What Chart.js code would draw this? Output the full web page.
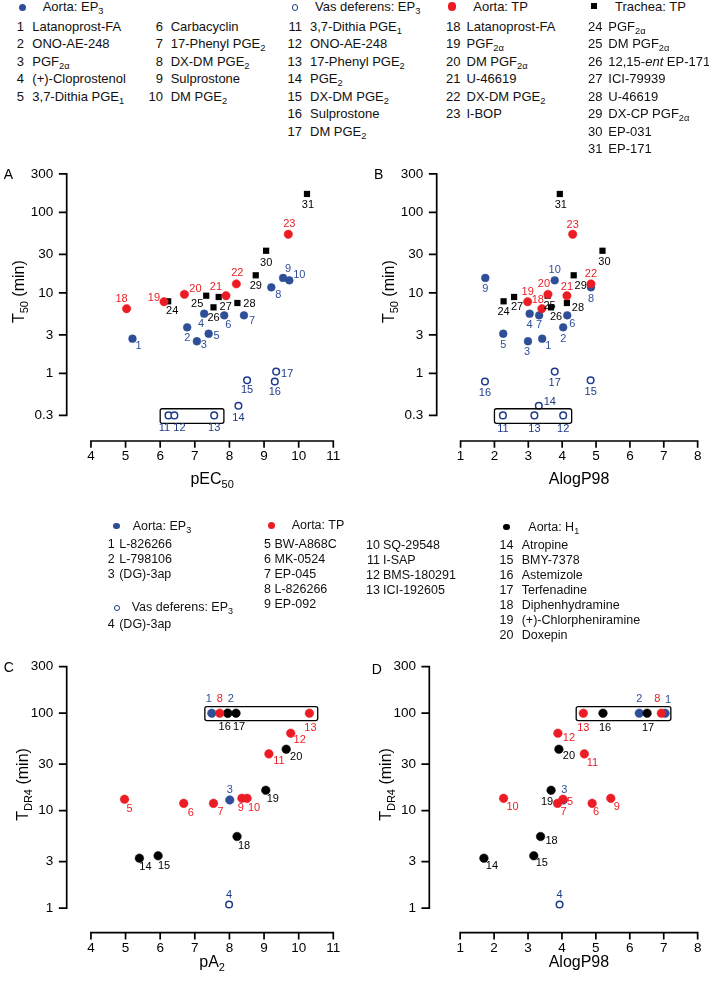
<!DOCTYPE html>
<html>
<head>
<meta charset="utf-8">
<script src="https://cdn.jsdelivr.net/npm/chart.js@4.4.1/dist/chart.umd.min.js"></script>
<style>
  html, body { margin: 0; padding: 0; background: #fff; }
  body { width: 709px; height: 982px; position: relative; overflow: hidden;
         font-family: "Liberation Sans", Arial, Helvetica, sans-serif; color: #111; }
  canvas { position: absolute; }
  .lg { position: absolute; white-space: nowrap; line-height: 1; }
  .lg sub { font-size: 0.72em; vertical-align: -0.32em; line-height: 0; }
  .mk { position: absolute; box-sizing: border-box; }
</style>
</head>
<body>
<canvas id="chartA" width="354" height="350"></canvas>
<canvas id="chartB" width="355" height="350"></canvas>
<canvas id="chartC" width="354" height="342"></canvas>
<canvas id="chartD" width="355" height="342"></canvas>
<script>
// ── Data: panels A/B (T50 vs pEC50 / AlogP98) ─────────────
const ID_EP3  = [1, 2, 3, 4, 5, 6, 7, 8, 9, 10];
const T50_EP3 = [2.69, 3.73, 2.50, 5.5, 3.10, 5.25, 5.25, 11.7, 15.3, 14.3];
const PEC_EP3 = [5.20, 6.78, 7.06, 7.27, 7.40, 7.85, 8.42, 9.21, 9.55, 9.73];
const LOGP_EP3 = [3.41, 4.03, 2.99, 3.04, 2.26, 4.15, 3.32, 4.85, 1.73, 3.78];

const ID_VAS  = [11, 12, 13, 14, 15, 16, 17];
const T50_VAS = [0.3, 0.3, 0.3, 0.396, 0.82, 0.79, 1.05];
const PEC_VAS = [6.24, 6.41, 7.56, 8.26, 8.51, 9.31, 9.35];
const LOGP_VAS = [2.25, 4.03, 3.18, 3.31, 4.84, 1.72, 3.78];

const ID_ATP  = [18, 19, 20, 21, 22, 23];
const T50_ATP = [6.35, 7.75, 9.57, 9.2, 12.9, 53.3];
const PEC_ATP = [5.03, 6.11, 6.70, 7.90, 8.20, 9.70];
const LOGP_ATP = [3.40, 2.98, 3.58, 4.14, 4.85, 4.31];

const ID_TTP  = [24, 25, 26, 27, 28, 29, 30, 31];
const T50_TTP = [7.84, 9.2, 6.6, 8.87, 7.47, 16.5, 33.3, 169];
const PEC_TTP = [6.23, 7.33, 7.54, 7.69, 8.23, 8.76, 9.06, 10.24];
const LOGP_TTP = [2.27, 3.57, 3.67, 2.58, 4.14, 4.34, 5.19, 3.93];

// ── Data: panels C/D (TDR4 vs pA2 / AlogP98) ──────────────
const ID_AEP3  = [1, 2, 3];
const TDR_AEP3 = [100, 100, 12.9];
const PA2_AEP3 = [7.49, 7.95, 8.01];
const LOGP_AEP3 = [7.04, 6.28, 4.04];

const ID_VEP3  = [4];
const TDR_VEP3 = [1.09];
const PA2_VEP3 = [7.99];
const LOGP_VEP3 = [3.93];

const ID_ATX  = [5, 6, 7, 8, 9, 10, 11, 12, 13];
const TDR_ATX = [13.1, 11.9, 11.9, 100, 13.4, 13.4, 38.3, 62.4, 100];
const PA2_ATX = [4.97, 6.68, 7.54, 7.72, 8.36, 8.51, 9.14, 9.77, 10.31];
const LOGP_ATX = [4.03, 4.89, 3.87, 6.93, 5.44, 2.28, 4.66, 3.88, 4.63];

const ID_H1  = [14, 15, 16, 17, 18, 19, 20];
const TDR_H1 = [3.26, 3.45, 100, 100, 5.44, 16.2, 42.7];
const PA2_H1 = [5.40, 5.94, 7.95, 8.19, 8.22, 9.05, 9.64];
const LOGP_H1 = [1.70, 3.17, 5.21, 6.51, 3.37, 3.68, 3.91];

// ── Ticks ────────────────────────────────────────────────
const Y_TICKS_TOP = [0.3, 1, 3, 10, 30, 100, 300];
const Y_TICKS_BOT = [1, 3, 10, 30, 100, 300];
const X_TICKS_P = [4, 5, 6, 7, 8, 9, 10, 11];
const X_TICKS_LOGP = [1, 2, 3, 4, 5, 6, 7, 8];

// boxes around grouped points [xmin, xmax, ymin, ymax]
const BOX_A = [6.0, 7.84, 0.239, 0.363];
const BOX_B = [2.0, 4.28, 0.239, 0.363];
const BOX_C = [7.29, 10.55, 84, 117];
const BOX_D = [4.42, 7.21, 84, 117];

// ── Styles ───────────────────────────────────────────────
const FONT = '"Liberation Sans", Arial, Helvetica, sans-serif';
const BLUE = "#2e4f97";
const NAVY = "#1d3b8b";
const RED  = "#ec1c24";
const BLACK = "#000";

// label offsets [dx, dy] per point (pixels)
const OFF_A = {
  ep3: [[6,7],[0,11],[7,4],[-3,10],[8,2],[4,10],[8,6],[7,8],[5,-9],[10,-5]],
  vas: [[-4,13],[5,13],[0,13],[0,12],[0,10],[0,10],[11,2]],
  atp: [[-5,-10],[-10,-4],[11,-5],[-10,-9],[1,-11],[1,-10]],
  ttp: [[4,10],[-9,8],[0,11],[7,10],[12,1],[0,11],[0,12],[1,11]]
};
const OFF_B = {
  ep3: [[6,7],[0,12],[-1,11],[0,11],[0,11],[5,9],[0,10],[0,12],[0,11],[0,-10]],
  vas: [[0,14],[0,14],[0,14],[11,-4],[0,12],[0,11],[0,11]],
  atp: [[-4,-9],[0,-10],[-4,-10],[0,-9],[0,-10],[0,-9]],
  ttp: [[0,11],[2,10],[5,10],[3,10],[11,5],[7,11],[2,11],[1,11]]
};
const OFF_C = {
  ep3: [[-3,-14],[3,-14],[0,-10]],
  vas: [[0,-10]],
  atp: [[5,10],[7,10],[7,9],[0,-14],[-1,10],[7,10],[10,7],[9,7],[1,15]],
  h1:  [[6,9],[6,10],[-3,14],[3,14],[7,9],[7,9],[10,8]]
};
const OFF_D = {
  ep3: [[3,-13],[0,-14],[1,-10]],
  vas: [[0,-10]],
  atp: [[7,3],[4,9],[6,9],[-4,-14],[6,9],[9,9],[8,9],[11,5],[0,15]],
  h1:  [[8,8],[8,7],[2,15],[1,15],[11,4],[-4,12],[10,7]]
};

const pts = (xs, ys) => ys.map((v, i) => ({ x: xs[i], y: v }));

function filled(color, data, r) {
  return { data, pointStyle: "circle", pointRadius: r || 4, backgroundColor: color,
           borderColor: color, borderWidth: 0.5, clip: false };
}
function open(data) {
  return { data, pointStyle: "circle", pointRadius: 3.3, backgroundColor: "#fff",
           borderColor: NAVY, borderWidth: 1.5, clip: false };
}
function squares(data) {
  return { data, pointStyle: "rect", pointRadius: 4.4, backgroundColor: BLACK,
           borderColor: BLACK, borderWidth: 0, clip: false };
}

// text with subscripts, centred on (cx, cy)
function drawParts(ctx, parts, cx, cy, size, rotate) {
  ctx.save();
  ctx.translate(cx, cy);
  if (rotate) ctx.rotate(-Math.PI / 2);
  const big = size + "px " + FONT;
  const small = Math.round(size * 0.7) + "px " + FONT;
  let w = 0;
  parts.forEach(([t, s]) => { ctx.font = s ? small : big; w += ctx.measureText(t).width; });
  let x = -w / 2;
  ctx.textAlign = "left";
  ctx.textBaseline = "alphabetic";
  ctx.fillStyle = "#000";
  parts.forEach(([t, s]) => {
    ctx.font = s ? small : big;
    ctx.fillText(t, x, s ? size * 0.6 : size * 0.36);
    x += ctx.measureText(t).width;
  });
  ctx.restore();
}

// ── Decoration plugin: offset axes, boxes, point numbers, titles ──
const decor = {
  id: "decor",
  afterDatasetsDraw(chart, args, o) {
    const { ctx, chartArea: ca } = chart;
    const x = chart.scales.x, y = chart.scales.y;
    ctx.save();

    // axes
    ctx.strokeStyle = "#000";
    ctx.lineWidth = 1.7;
    ctx.lineCap = "square";
    const yTop = y.getPixelForValue(o.yTicks[o.yTicks.length - 1]);
    const yBot = y.getPixelForValue(o.yTicks[0]);
    const xl = x.getPixelForValue(o.xTicks[0]);
    const xr = x.getPixelForValue(o.xTicks[o.xTicks.length - 1]);
    ctx.beginPath();
    ctx.moveTo(ca.left, yTop); ctx.lineTo(ca.left, yBot);
    o.yTicks.forEach(v => {
      const py = y.getPixelForValue(v);
      ctx.moveTo(ca.left - 7, py); ctx.lineTo(ca.left, py);
    });
    ctx.moveTo(xl, ca.bottom); ctx.lineTo(xr, ca.bottom);
    o.xTicks.forEach(v => {
      const px = x.getPixelForValue(v);
      ctx.moveTo(px, ca.bottom); ctx.lineTo(px, ca.bottom + 6);
    });
    ctx.stroke();

    // grouping box
    const b = o.box;
    const bx0 = x.getPixelForValue(b[0]), bx1 = x.getPixelForValue(b[1]);
    const by0 = y.getPixelForValue(b[3]), by1 = y.getPixelForValue(b[2]);
    ctx.lineWidth = 1.3;
    ctx.lineCap = "butt";
    ctx.beginPath();
    ctx.roundRect(bx0, by0, bx1 - bx0, by1 - by0, 2);
    ctx.stroke();

    // point numbers
    ctx.font = "11px " + FONT;
    ctx.textAlign = "center";
    ctx.textBaseline = "middle";
    o.labels.forEach((lab, di) => {
      const meta = chart.getDatasetMeta(di);
      ctx.fillStyle = lab.color;
      meta.data.forEach((el, i) => {
        const off = lab.offs[i];
        ctx.fillText(String(lab.ids[i]), el.x + off[0], el.y + off[1]);
      });
    });

    // titles
    drawParts(ctx, o.xTitle, (xl + xr) / 2, ca.bottom + o.xTitleDy, 16, false);
    drawParts(ctx, o.yTitle, ca.left - o.yTitleDx, (yTop + yBot) / 2 - 3, 16, true);

    // panel letter
    ctx.font = "14px " + FONT;
    ctx.fillStyle = "#000";
    ctx.textAlign = "center";
    ctx.textBaseline = "middle";
    ctx.fillText(o.letter[0], o.letter[1], o.letter[2]);
    ctx.restore();
  }
};

function makePanel(id, p) {
  const cv = document.getElementById(id);
  cv.style.left = p.canvas[0] + "px";
  cv.style.top = p.canvas[1] + "px";
  const yW = p.area[0] - p.canvas[0];
  const xH = 30;
  new Chart(cv, {
    type: "scatter",
    data: { datasets: p.datasets },
    options: {
      responsive: false,
      animation: false,
      events: [],
      layout: {
        autoPadding: false,
        padding: {
          left: 0,
          top: p.area[1] - p.canvas[1],
          right: p.canvas[0] + cv.width - p.area[2],
          bottom: p.canvas[1] + cv.height - p.area[3] - xH
        }
      },
      scales: {
        x: {
          type: "linear", min: p.xRange[0], max: p.xRange[1],
          afterBuildTicks: s => { s.ticks = p.xTicks.map(v => ({ value: v })); },
          afterFit: s => { s.height = xH; },
          grid: { display: false, drawTicks: false },
          border: { display: false },
          ticks: { autoSkip: false, maxRotation: 0, padding: 7.6, color: "#000",
                   font: { size: 13.5, family: FONT }, callback: v => String(v) }
        },
        y: {
          type: "logarithmic", min: p.yRange[0], max: p.yRange[1],
          afterBuildTicks: s => { s.ticks = p.yTicks.map(v => ({ value: v })); },
          afterFit: s => { s.width = yW; },
          grid: { display: false, drawTicks: false },
          border: { display: false },
          ticks: { autoSkip: false, padding: 13.4, color: "#000",
                   font: { size: 13.5, family: FONT }, callback: v => String(v) }
        }
      },
      plugins: {
        legend: { display: false },
        tooltip: { enabled: false },
        decor: {
          xTicks: p.xTicks, yTicks: p.yTicks, box: p.box, labels: p.labels,
          xTitle: p.xTitle, xTitleDy: p.xTitleDy, yTitle: p.yTitle, yTitleDx: p.yTitleDx,
          letter: p.letter
        }
      }
    },
    plugins: [decor]
  });
}

const T50_TITLE = [["T", 0], ["50", 1], [" (min)", 0]];
const TDR_TITLE = [["T", 0], ["DR4", 1], [" (min)", 0]];

function topDatasets(xs) {
  return [
    filled(RED, pts(xs.atp, T50_ATP), 4.2),
    squares(pts(xs.ttp, T50_TTP)),
    filled(BLUE, pts(xs.ep3, T50_EP3), 3.9),
    open(pts(xs.vas, T50_VAS))
  ];
}
function topLabels(off) {
  return [
    { ids: ID_ATP, offs: off.atp, color: RED },
    { ids: ID_TTP, offs: off.ttp, color: BLACK },
    { ids: ID_EP3, offs: off.ep3, color: BLUE },
    { ids: ID_VAS, offs: off.vas, color: NAVY }
  ];
}
function botDatasets(xs) {
  return [
    filled(RED, pts(xs.atx, TDR_ATX), 4.3),
    filled(BLACK, pts(xs.h1, TDR_H1), 4.3),
    filled(BLUE, pts(xs.aep3, TDR_AEP3), 4.3),
    open(pts(xs.vep3, TDR_VEP3))
  ];
}
function botLabels(off) {
  return [
    { ids: ID_ATX, offs: off.atp, color: RED },
    { ids: ID_H1, offs: off.h1, color: BLACK },
    { ids: ID_AEP3, offs: off.ep3, color: BLUE },
    { ids: ID_VEP3, offs: off.vas, color: NAVY }
  ];
}

makePanel("chartA", {
  canvas: [0, 150], area: [66.7, 173.9, 333.3, 441],
  xRange: [3.30, 11], yRange: [0.1442, 300], xTicks: X_TICKS_P, yTicks: Y_TICKS_TOP,
  datasets: topDatasets({ ep3: PEC_EP3, vas: PEC_VAS, atp: PEC_ATP, ttp: PEC_TTP }),
  labels: topLabels(OFF_A), box: BOX_A,
  xTitle: [["pEC", 0], ["50", 1]], xTitleDy: 37, yTitle: T50_TITLE, yTitleDx: 48,
  letter: ["A", 8.3, 25]
});
makePanel("chartB", {
  canvas: [354, 150], area: [436.7, 173.9, 702.3, 441],
  xRange: [0.295, 8], yRange: [0.1442, 300], xTicks: X_TICKS_LOGP, yTicks: Y_TICKS_TOP,
  datasets: topDatasets({ ep3: LOGP_EP3, vas: LOGP_VAS, atp: LOGP_ATP, ttp: LOGP_TTP }),
  labels: topLabels(OFF_B), box: BOX_B,
  xTitle: [["AlogP98", 0]], xTitleDy: 37, yTitle: T50_TITLE, yTitleDx: 48,
  letter: ["B", 24.6, 25]
});
makePanel("chartC", {
  canvas: [0, 640], area: [66.7, 666.7, 333.3, 932.7],
  xRange: [3.30, 11], yRange: [0.561, 300], xTicks: X_TICKS_P, yTicks: Y_TICKS_BOT,
  datasets: botDatasets({ aep3: PA2_AEP3, vep3: PA2_VEP3, atx: PA2_ATX, h1: PA2_H1 }),
  labels: botLabels(OFF_C), box: BOX_C,
  xTitle: [["pA", 0], ["2", 1]], xTitleDy: 29, yTitle: TDR_TITLE, yTitleDx: 44,
  letter: ["C", 8.7, 28]
});
makePanel("chartD", {
  canvas: [354, 640], area: [429.3, 666.7, 702.3, 932.7],
  xRange: [0.09, 8], yRange: [0.561, 300], xTicks: X_TICKS_LOGP, yTicks: Y_TICKS_BOT,
  datasets: botDatasets({ aep3: LOGP_AEP3, vep3: LOGP_VEP3, atx: LOGP_ATX, h1: LOGP_H1 }),
  labels: botLabels(OFF_D), box: BOX_D,
  xTitle: [["AlogP98", 0]], xTitleDy: 29, yTitle: TDR_TITLE, yTitleDx: 44,
  letter: ["D", 22.7, 30]
});

// ── Legends (HTML text) ──────────────────────────────────
function addText(html, x, cy, size, right) {
  const d = document.createElement("div");
  d.className = "lg";
  d.style.fontSize = size + "px";
  d.style.top = (cy - size / 2) + "px";
  if (right) d.style.right = (709 - x) + "px"; else d.style.left = x + "px";
  d.innerHTML = html;
  document.body.appendChild(d);
}
function addMarker(kind, color, cx, cy, dia) {
  const m = document.createElement("div");
  m.className = "mk";
  m.style.width = dia + "px";
  m.style.height = dia + "px";
  m.style.left = (cx - dia / 2) + "px";
  m.style.top = (cy - dia / 2) + "px";
  if (kind === "open") { m.style.border = "1.5px solid " + color; m.style.borderRadius = "50%"; }
  else { m.style.background = color; if (kind === "dot") m.style.borderRadius = "50%"; }
  document.body.appendChild(m);
}

const PGF2A = "PGF<sub>2&alpha;</sub>";
const PGE2 = "PGE<sub>2</sub>";

const LEG_TOP = [
  { mark: ["dot", BLUE, 22.3, 7.4], head: "Aorta: EP<sub>3</sub>", hx: 42.7, nr: 24, tx: 32.3, n0: 1,
    names: ["Latanoprost-FA", "ONO-AE-248", PGF2A, "(+)-Cloprostenol", "3,7-Dithia PGE<sub>1</sub>"] },
  { nr: 163, tx: 170.7, n0: 6,
    names: ["Carbacyclin", "17-Phenyl " + PGE2, "DX-DM " + PGE2, "Sulprostone", "DM " + PGE2] },
  { mark: ["open", NAVY, 295, 7.4, 6.7], head: "Vas deferens: EP<sub>3</sub>", hx: 315, nr: 302, tx: 310, n0: 11,
    names: ["3,7-Dithia PGE<sub>1</sub>", "ONO-AE-248", "17-Phenyl " + PGE2, PGE2, "DX-DM " + PGE2, "Sulprostone", "DM " + PGE2] },
  { mark: ["dot", RED, 452.3, 6.4, 8.3], head: "Aorta: TP", hx: 473.3, nr: 460.5, tx: 466.5, n0: 18,
    names: ["Latanoprost-FA", PGF2A, "DM " + PGF2A, "U-46619", "DX-DM " + PGE2, "I-BOP"] },
  { mark: ["sq", BLACK, 594.3, 6.4, 6], head: "Trachea: TP", hx: 615, nr: 602.5, tx: 608.3, n0: 24,
    names: [PGF2A, "DM " + PGF2A, "12,15-<i>ent</i> EP-171", "ICI-79939", "U-46619", "DX-CP " + PGF2A, "EP-031", "EP-171"] }
];
LEG_TOP.forEach(c => {
  if (c.mark) {
    addMarker(c.mark[0], c.mark[1], c.mark[2], c.mark[3], c.mark[4] || 7.4);
    addText(c.head, c.hx, 6.8, 13);
  }
  c.names.forEach((nm, i) => {
    const cy = 26 + i * 17.5;
    addText(String(c.n0 + i), c.nr, cy, 13, true);
    addText(nm, c.tx, cy, 13);
  });
});

const LEG_MID = [
  { mark: ["dot", BLUE, 116.7, 526, 6.8], head: "Aorta: EP<sub>3</sub>", hx: 132.7, nr: 114.8, tx: 119.2, n0: 1, y0: 544.3,
    names: ["L-826266", "L-798106", "(DG)-3ap"] },
  { mark: ["open", NAVY, 116.7, 607.7, 6.4], head: "Vas deferens: EP<sub>3</sub>", hx: 131.7, nr: 114.8, tx: 119.2, n0: 4, y0: 624.5,
    names: ["(DG)-3ap"] },
  { mark: ["dot", RED, 271.7, 525.5, 7.6], head: "Aorta: TP", hx: 291.7, nr: 271, tx: 274.5, n0: 5, y0: 544.3,
    names: ["BW-A868C", "MK-0524", "EP-045", "L-826266", "EP-092"] },
  { nr: 380, tx: 383, n0: 10, y0: 545.5, names: ["SQ-29548", "I-SAP", "BMS-180291", "ICI-192605"] },
  { mark: ["dot", BLACK, 506.7, 527, 6.8], head: "Aorta: H<sub>1</sub>", hx: 528.3, nr: 513.5, tx: 521.7, n0: 14, y0: 545,
    names: ["Atropine", "BMY-7378", "Astemizole", "Terfenadine", "Diphenhydramine", "(+)-Chlorpheniramine", "Doxepin"] }
];
LEG_MID.forEach(c => {
  if (c.mark) {
    addMarker(c.mark[0], c.mark[1], c.mark[2], c.mark[3], c.mark[4]);
    addText(c.head, c.hx, c.mark[3], 12.5);
  }
  c.names.forEach((nm, i) => {
    const cy = c.y0 + i * 15;
    addText(String(c.n0 + i), c.nr, cy, 12.5, true);
    addText(nm, c.tx, cy, 12.5);
  });
});
</script>
</body>
</html>
